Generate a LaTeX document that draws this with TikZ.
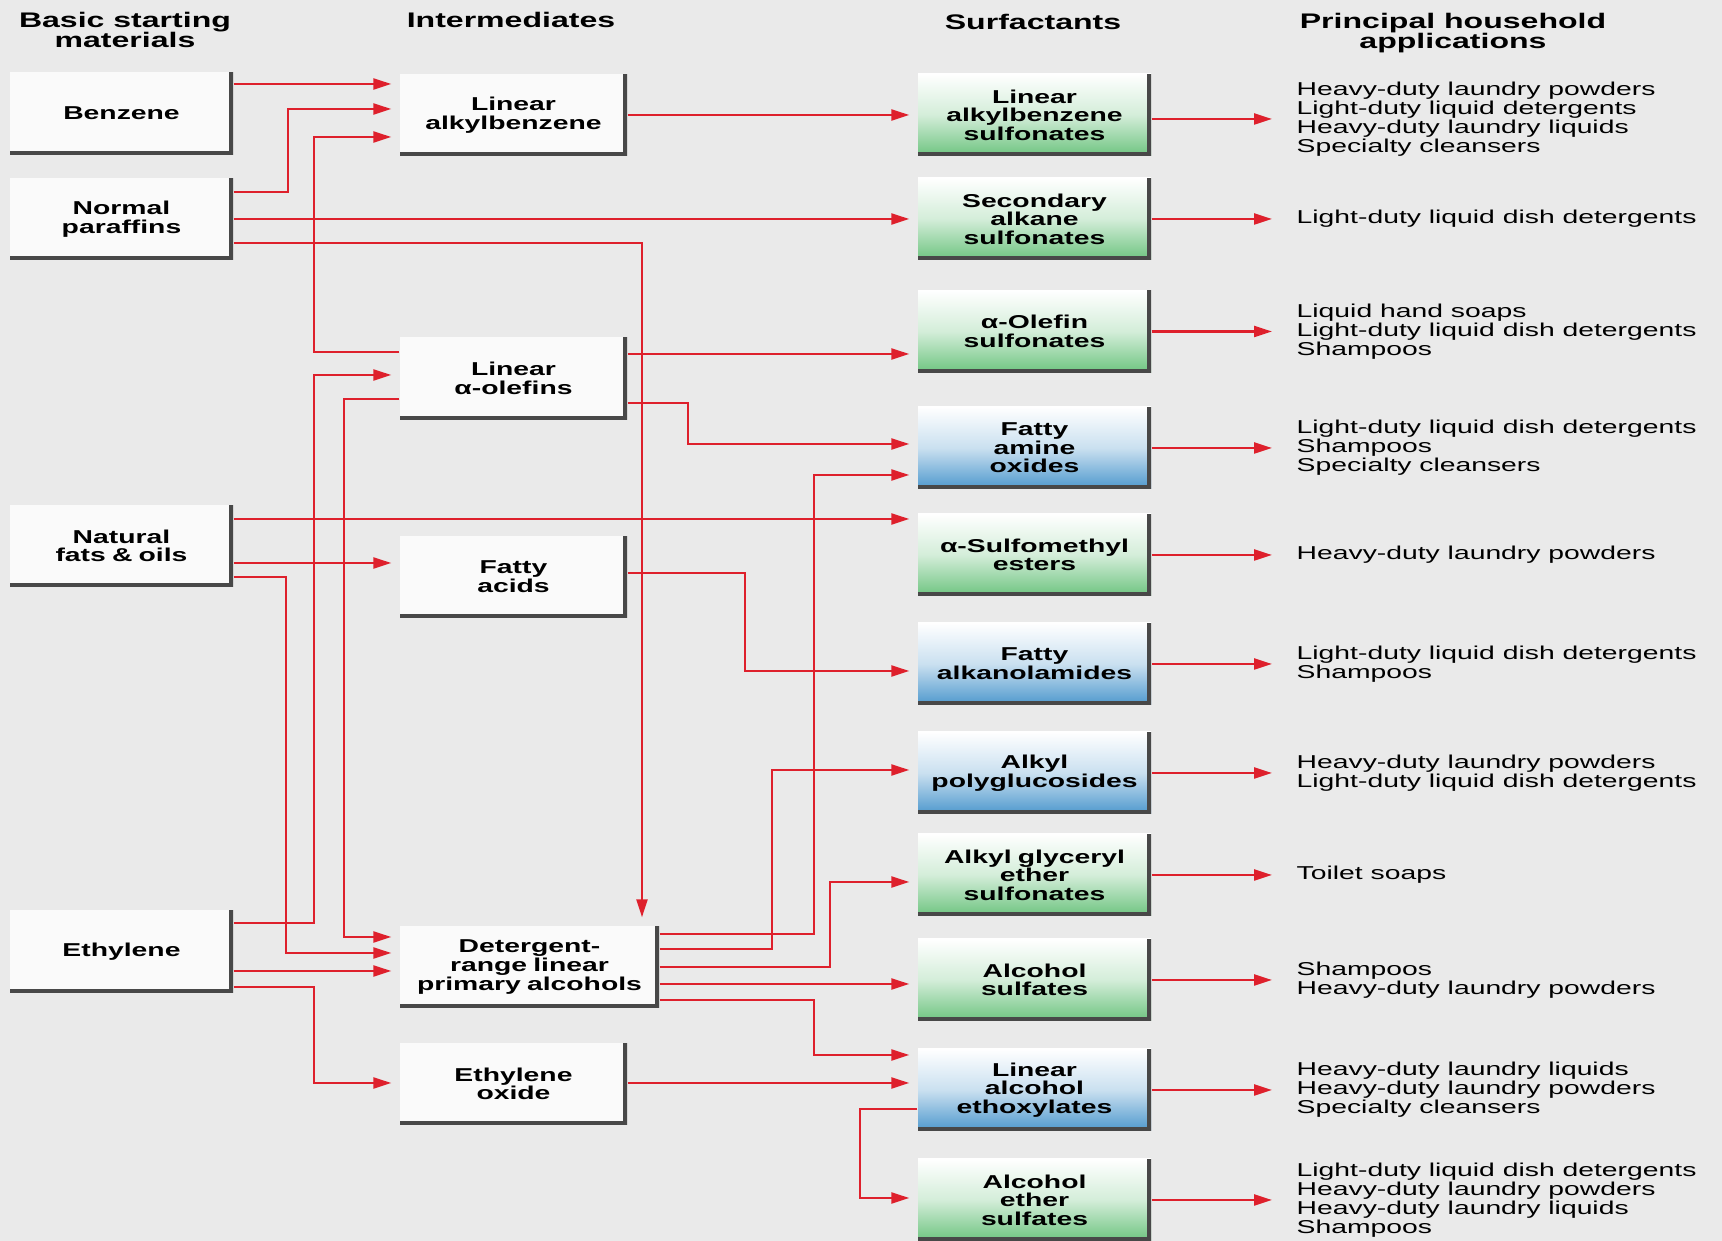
\documentclass[tikz,border=0pt]{standalone}
\usepackage{fontspec}
\setmainfont{Liberation Sans}[FakeStretch=1.52]
\usetikzlibrary{arrows.meta}
\definecolor{bgcol}{RGB}{234,234,234}
\definecolor{boxwhite}{RGB}{250,250,250}
\definecolor{linered}{RGB}{222,32,44}
\definecolor{edgegray}{RGB}{72,72,72}
\definecolor{sgreen}{RGB}{110,196,128}
\definecolor{sblue}{RGB}{78,152,205}
\newcommand\boxtxt{\fontsize{5.3pt}{5.3pt}\selectfont\bfseries}
\newcommand\headtxt{\fontsize{6pt}{5.8pt}\selectfont\bfseries}
\newcommand\apptxt{\fontsize{5.3pt}{5.4pt}\selectfont}
\begin{document}
\begin{tikzpicture}[>={Triangle[length=1.8mm, width=1.1mm]},
  flow/.style={->, draw=linered, line width=0.65pt, shorten >=0.8mm},
  useflow/.style={flow, shorten >=2.4mm},
  edged/.style={path picture={\draw[line width=2.2pt, draw=edgegray](path picture bounding box.north east)--(path picture bounding box.south east)--(path picture bounding box.south west);}},
  srcbox/.style={rectangle, fill=boxwhite, edged, inner sep=0pt, minimum height=0.82cm, text width=2.23cm, align=center, font=\boxtxt},
  midbox/.style={srcbox, text width=2.27cm},
  greenbox/.style={rectangle, edged, inner sep=0pt, minimum height=0.82cm, text width=2.33cm, align=center, font=\boxtxt, top color=white, bottom color=sgreen, middle color=sgreen!30},
  bluebox/.style={greenbox, top color=white, bottom color=sblue, middle color=sblue!30},
  apptext/.style={right, align=left, inner sep=0pt, font=\apptxt},
  colhead/.style={align=center, inner sep=0pt, font=\headtxt}]

\useasboundingbox (0,0) rectangle (17.22,12.41);
\fill[bgcol](0,0) rectangle (17.22,12.41);

\node(U) at (1.25,12.11)[colhead]{Basic starting\\materials};
\node(V) at (5.11,12.21)[colhead]{Intermediates};
\node(W) at (10.33,12.19)[colhead]{Surfactants};
\node(X) at (14.53,12.08)[colhead]{Principal household\\applications};

\node(A) at (1.215,11.275)[srcbox]{Benzene};
\node(B) at (1.215,10.22)[srcbox]{Normal\\paraffins};
\node(C) at (1.215,6.95)[srcbox]{Natural\\fats \& oils};
\node(D) at (1.215,2.895)[srcbox]{Ethylene};

\node(E) at (5.135,11.26)[midbox]{Linear\\alkylbenzene};
\node(F) at (5.135,8.625)[midbox]{Linear\\α-olefins};
\node(G) at (5.135,6.64)[midbox]{Fatty\\acids};
\node(H) at (5.295,2.74)[midbox, text width=2.59cm]{Detergent-\\range linear\\primary alcohols};
\node(I) at (5.135,1.57)[midbox]{Ethylene\\oxide};

\node(J) at (10.345,11.26)[greenbox]{Linear\\alkylbenzene\\sulfonates};
\node(K) at (10.345,10.22)[greenbox]{Secondary\\alkane\\sulfonates};
\node(L) at (10.345,9.095)[greenbox]{α-Olefin\\sulfonates};
\node(M) at (10.345,7.93)[bluebox]{Fatty\\amine\\oxides};
\node(N) at (10.345,6.86)[greenbox]{α-Sulfomethyl\\esters};
\node(O) at (10.345,5.77)[bluebox]{Fatty\\alkanolamides};
\node(P) at (10.345,4.68)[bluebox]{Alkyl\\polyglucosides};
\node(Q) at (10.345,3.66)[greenbox]{Alkyl glyceryl\\ether\\sulfonates};
\node(R) at (10.345,2.61)[greenbox]{Alcohol\\sulfates};
\node(S) at (10.345,1.51)[bluebox]{Linear\\alcohol\\ethoxylates};
\node(T) at (10.345,0.41)[greenbox]{Alcohol\\ether\\sulfates};

\node(a) at (12.96,11.22)[apptext]{Heavy-duty laundry powders\\Light-duty liquid detergents\\Heavy-duty laundry liquids\\Specialty cleansers};
\node(b) at (12.96,10.22)[apptext]{Light-duty liquid dish detergents};
\node(c) at (12.96,9.095)[apptext]{Liquid hand soaps\\Light-duty liquid dish detergents\\Shampoos};
\node(d) at (12.96,7.93)[apptext]{Light-duty liquid dish detergents\\Shampoos\\Specialty cleansers};
\node(e) at (12.96,6.86)[apptext]{Heavy-duty laundry powders};
\node(f) at (12.96,5.77)[apptext]{Light-duty liquid dish detergents\\Shampoos};
\node(g) at (12.96,4.68)[apptext]{Heavy-duty laundry powders\\Light-duty liquid dish detergents};
\node(h) at (12.96,3.66)[apptext]{Toilet soaps};
\node(i) at (12.96,2.61)[apptext]{Shampoos\\Heavy-duty laundry powders};
\node(j) at (12.96,1.51)[apptext]{Heavy-duty laundry liquids\\Heavy-duty laundry powders\\Specialty cleansers};
\node(k) at (12.96,0.41)[apptext]{Light-duty liquid dish detergents\\Heavy-duty laundry powders\\Heavy-duty laundry liquids\\Shampoos};

\draw[flow](A.east |- 0,11.57)--(E.west |- 0,11.57);
\draw[flow](B.east |- 0,10.49) -| (2.88,11.32)--(E.west |- 0,11.32);
\draw[flow](F.west |- 0,8.89) -| (3.14,11.04)--(E.west |- 0,11.04);
\draw[flow](B.east)--(K.west);
\draw[flow](B.east |- 0,9.98) -| (6.42,0 |- H.north);

\draw[flow](D.east |- 0,3.18) -| (3.14,8.66)--(F.west |- 0,8.66);
\draw[flow](F.west |- 0,8.42) -| (3.44,3.04)--(H.west |- 0,3.04);
\draw[flow](C.east |- 0,6.64) -| (2.86,2.88)--(H.west |- 0,2.88);
\draw[flow](D.east |- 0,2.70)--(H.west |- 0,2.70);
\draw[flow](D.east |- 0,2.54) -| (3.14,1.58)--(I.west |- 0,1.58);
\draw[flow](C.east |- 0,7.22)--(N.west |- 0,7.22);
\draw[flow](C.east |- 0,6.78)--(G.west |- 0,6.78);

\draw[flow](E.east)--(J.west);
\draw[flow](F.east |- 0,8.87)--(L.west |- 0,8.87);
\draw[flow](F.east |- 0,8.38) -| (6.88,7.97)--(M.west |- 0,7.97);
\draw[flow](G.east |- 0,6.68) -| (7.45,5.70)--(O.west |- 0,5.70);
\draw[flow](H.east |- 0,3.07) -| (8.14,7.66)--(M.west |- 0,7.66);
\draw[flow](H.east |- 0,2.92) -| (7.72,4.71)--(P.west |- 0,4.71);
\draw[flow](H.east |- 0,2.74) -| (8.30,3.59)--(Q.west |- 0,3.59);
\draw[flow](H.east |- 0,2.57)--(R.west |- 0,2.57);
\draw[flow](H.east |- 0,2.41) -| (8.14,1.86)--(S.west |- 0,1.86);
\draw[flow](I.east |- 0,1.58)--(S.west |- 0,1.58);
\draw[flow](S.west |- 0,1.32) -| (8.60,0.43)--(T.west |- 0,0.43);

\draw[useflow](J.east |- a.west)--(a.west);
\draw[useflow](K.east)--(b.west);
\draw[useflow](L.east)--(c.west);
\draw[useflow](M.east)--(d.west);
\draw[useflow](N.east)--(e.west);
\draw[useflow](O.east)--(f.west);
\draw[useflow](P.east)--(g.west);
\draw[useflow](Q.east)--(h.west);
\draw[useflow](R.east)--(i.west);
\draw[useflow](S.east)--(j.west);
\draw[useflow](T.east)--(k.west);

\end{tikzpicture}
\end{document}
